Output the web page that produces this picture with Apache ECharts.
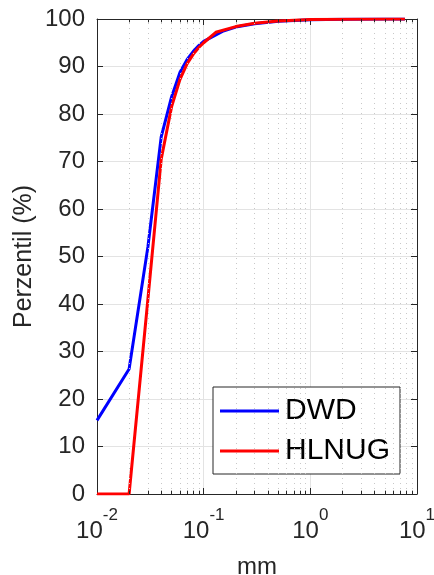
<!DOCTYPE html>
<html>
<head>
<meta charset="utf-8">
<script src="https://cdn.jsdelivr.net/npm/echarts@6/dist/echarts.min.js"></script>
<style>
  html, body { margin: 0; padding: 0; background: #fff; }
  #chart { width: 434px; height: 575px; }
</style>
</head>
<body>
<div id="chart"></div>
<script>
// Precipitation amount (mm) at which each percentile is reached
const dwdX   = [0.01, 0.02, 0.03, 0.04, 0.05, 0.06, 0.07, 0.08, 0.09, 0.1, 0.15, 0.2, 0.3, 0.5, 1, 2, 5, 7.7];
const dwdY   = [15.5, 26.3, 52, 75.2, 83.6, 88.8, 91.5, 93.2, 94.4, 95.3, 97.4, 98.3, 99.0, 99.5, 99.85, 99.95, 100, 100];
const hlnugX = [0.01, 0.02, 0.03, 0.04, 0.05, 0.06, 0.07, 0.08, 0.09, 0.1, 0.13, 0.2, 0.3, 0.5, 1, 2, 5, 7.7];
const hlnugY = [0, 0, 41, 70.5, 81.5, 87.3, 90.6, 92.6, 94.0, 95.0, 97.2, 98.4, 99.1, 99.6, 99.9, 99.97, 100, 100];
const seriesNames = ['DWD', 'HLNUG'];
const xTickExponents = { 0.01: '-2', 0.1: '-1', 1: '0', 10: '1' };
const minorX = [0.02, 0.03, 0.04, 0.05, 0.06, 0.07, 0.08, 0.09,
                0.2, 0.3, 0.4, 0.5, 0.6, 0.7, 0.8, 0.9,
                2, 3, 4, 5, 6, 7, 8, 9];

const FONT = '"Liberation Sans", Arial, Helvetica, sans-serif';
const TXT = '#262626';
const Y_MIN = 0, Y_MAX = 100;
const MINOR_TICK = 0.7; // minor tick length in y units

const chart = echarts.init(document.getElementById('chart'), null, { renderer: 'canvas' });

const pairs = (xs, ys) => xs.map((x, i) => [x, ys[i]]);

// short tick segments at the bottom and top edges for each minor log position
const minorTickSegments = minorX.flatMap(x => [
  [{ coord: [x, Y_MIN] }, { coord: [x, Y_MIN + MINOR_TICK] }],
  [{ coord: [x, Y_MAX - MINOR_TICK] }, { coord: [x, Y_MAX] }]
]);

const option = {
  backgroundColor: '#ffffff',
  animation: false,
  textStyle: { fontFamily: FONT, color: TXT },
  grid: { left: 97, right: 17, top: 19, bottom: 81, containLabel: false, outerBoundsMode: 'none' },
  legend: {
    data: seriesNames,
    orient: 'vertical',
    left: 213,
    top: 387,
    width: 184,
    padding: [9, 10, 8, 7],
    itemGap: 10,
    itemWidth: 59,
    itemHeight: 3,
    icon: 'rect',
    backgroundColor: '#ffffff',
    borderColor: '#262626',
    borderWidth: 1,
    borderRadius: 0,
    textStyle: { fontFamily: FONT, fontSize: 30, color: '#000', lineHeight: 30, padding: [0, 0, 0, 1] }
  },
  xAxis: [{
    type: 'log',
    logBase: 10,
    min: 0.01,
    max: 10,
    name: 'mm',
    nameLocation: 'middle',
    nameGap: 61,
    nameMoveOverlap: false,
    nameTextStyle: { fontFamily: FONT, fontSize: 24, color: TXT },
    axisLine: { show: true, onZero: false, lineStyle: { color: '#262626', width: 1 } },
    axisTick: { show: true, inside: true, length: 6, lineStyle: { color: '#262626' } },
    splitLine: { show: true, lineStyle: { color: '#e3e3e3', width: 1 } },
    axisLabel: {
      margin: 13,
      formatter: v => {
        const key = Number(v.toPrecision(3));
        return '{b|10}{s|' + (xTickExponents[key] ?? '') + '}';
      },
      rich: {
        b: { fontFamily: FONT, fontSize: 24, color: TXT, lineHeight: 36, verticalAlign: 'bottom' },
        s: { fontFamily: FONT, fontSize: 17, color: TXT, lineHeight: 17, verticalAlign: 'top' }
      }
    }
  }, {
    type: 'log',
    logBase: 10,
    min: 0.01,
    max: 10,
    position: 'top',
    axisLine: { show: true, onZero: false, lineStyle: { color: '#262626', width: 1 } },
    axisTick: { show: true, inside: true, length: 6, lineStyle: { color: '#262626' } },
    axisLabel: { show: false },
    splitLine: { show: false }
  }],
  yAxis: [{
    type: 'value',
    min: Y_MIN,
    max: Y_MAX,
    interval: 10,
    name: 'Perzentil (%)',
    nameLocation: 'middle',
    nameGap: 60,
    nameMoveOverlap: false,
    nameTextStyle: { fontFamily: FONT, fontSize: 25, color: TXT },
    axisLine: { show: true, lineStyle: { color: '#262626', width: 1 } },
    axisTick: { show: true, inside: true, length: 6, lineStyle: { color: '#262626' } },
    splitLine: { show: true, lineStyle: { color: '#e3e3e3', width: 1 } },
    axisLabel: { margin: 12, fontFamily: FONT, fontSize: 24, color: TXT,
      formatter: v => String(v) }
  }, {
    type: 'value',
    min: Y_MIN,
    max: Y_MAX,
    interval: 10,
    position: 'right',
    axisLine: { show: true, lineStyle: { color: '#262626', width: 1 } },
    axisTick: { show: true, inside: true, length: 6, lineStyle: { color: '#262626' } },
    axisLabel: { show: false },
    splitLine: { show: false }
  }],
  series: [{
    // dotted minor grid inside each decade
    type: 'line',
    name: '_minorGrid',
    data: [],
    silent: true,
    z: 1,
    markLine: {
      silent: true,
      symbol: 'none',
      label: { show: false },
      lineStyle: { color: '#c8c8c8', type: [1, 4], width: 1 },
      data: minorX.map(x => ({ xAxis: x }))
    }
  }, {
    // minor ticks on the bottom and top edges
    type: 'line',
    name: '_minorTicks',
    data: [],
    silent: true,
    z: 5,
    markLine: {
      silent: true,
      symbol: 'none',
      label: { show: false },
      lineStyle: { color: '#262626', type: 'solid', width: 1 },
      data: minorTickSegments
    }
  }, {
    type: 'line',
    name: seriesNames[0],
    data: pairs(dwdX, dwdY),
    showSymbol: false,
    symbol: 'none',
    color: '#0000ff',
    lineStyle: { color: '#0000ff', width: 3 },
    z: 3
  }, {
    type: 'line',
    name: seriesNames[1],
    data: pairs(hlnugX, hlnugY),
    showSymbol: false,
    symbol: 'none',
    color: '#ff0000',
    lineStyle: { color: '#ff0000', width: 3 },
    z: 4
  }]
};

chart.setOption(option);
</script>
</body>
</html>
